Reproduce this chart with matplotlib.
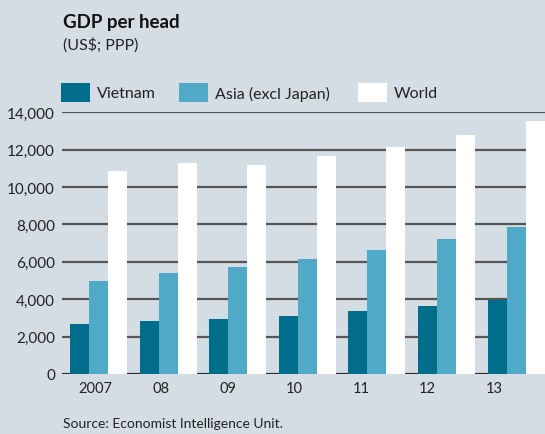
import matplotlib.pyplot as plt
import numpy as np
from matplotlib.patches import Rectangle

# data
years = ["2007", "08", "09", "10", "11", "12", "13"]
vietnam = [2650, 2830, 2950, 3100, 3370, 3640, 3960]
asia = [4990, 5420, 5720, 6130, 6610, 7200, 7840]
world = [10850, 11270, 11180, 11640, 12150, 12800, 13530]
yticks = [0, 2000, 4000, 6000, 8000, 10000, 12000, 14000]

BG = "#d4dde3"
C_VIET = "#006e8a"
C_ASIA = "#50a9c6"
C_WORLD = "#ffffff"
TXT = "#222222"

plt.rcParams["font.family"] = ["Lato", "DejaVu Sans"]

# create the figure
fig = plt.figure(figsize=(5.45, 4.35), dpi=100, facecolor=BG)
ax = fig.add_axes([0.1138, 0.138, 0.8862, 0.602], facecolor=BG)

x = np.arange(len(years))
w = 0.273
ax.bar(x - w, vietnam, w, color=C_VIET, zorder=3)
ax.bar(x, asia, w, color=C_ASIA, zorder=3)
ax.bar(x + w, world, w, color=C_WORLD, zorder=3)

# axes styling (year labels sit slightly left of the groups, as in the original)
ax.set_xlim(-0.524, 6.415)
ax.set_ylim(0, 14000)
ax.set_yticks(yticks)
ax.set_yticklabels([f"{v:,}" for v in yticks], fontsize=11, color=TXT)
ax.set_xticks(x * 0.955 - 0.05)
ax.set_xticklabels(years, fontsize=10.5, color=TXT)
ax.tick_params(axis="both", length=0, pad=5)
ax.yaxis.grid(True, color="#555555", linewidth=1.6, zorder=1)
ax.set_axisbelow(True)
for s in ax.spines.values():
    s.set_visible(False)
ax.axhline(0, color="#222222", linewidth=1.8, zorder=2)

# titles
fig.text(0.116, 0.935, "GDP per head", fontsize=13.5, fontweight="bold", color="#111111")
fig.text(0.116, 0.885, "(US$; PPP)", fontsize=11.5, color=TXT)

# legend drawn by hand
legend = [("Vietnam", C_VIET, 61), ("Asia (excl Japan)", C_ASIA, 179), ("World", C_WORLD, 358)]
for label, col, px in legend:
    fig.patches.append(Rectangle((px / 545, 1 - 103 / 435), 29 / 545, 19 / 435,
                                 transform=fig.transFigure, facecolor=col, edgecolor="none"))
    fig.text((px + 36) / 545, 1 - 94 / 435, label, fontsize=11.5, color=TXT, va="center")

# source
fig.text(0.116, 0.015, "Source: Economist Intelligence Unit.", fontsize=10, color=TXT)

fig.savefig("out.png", dpi=100, facecolor=BG)
